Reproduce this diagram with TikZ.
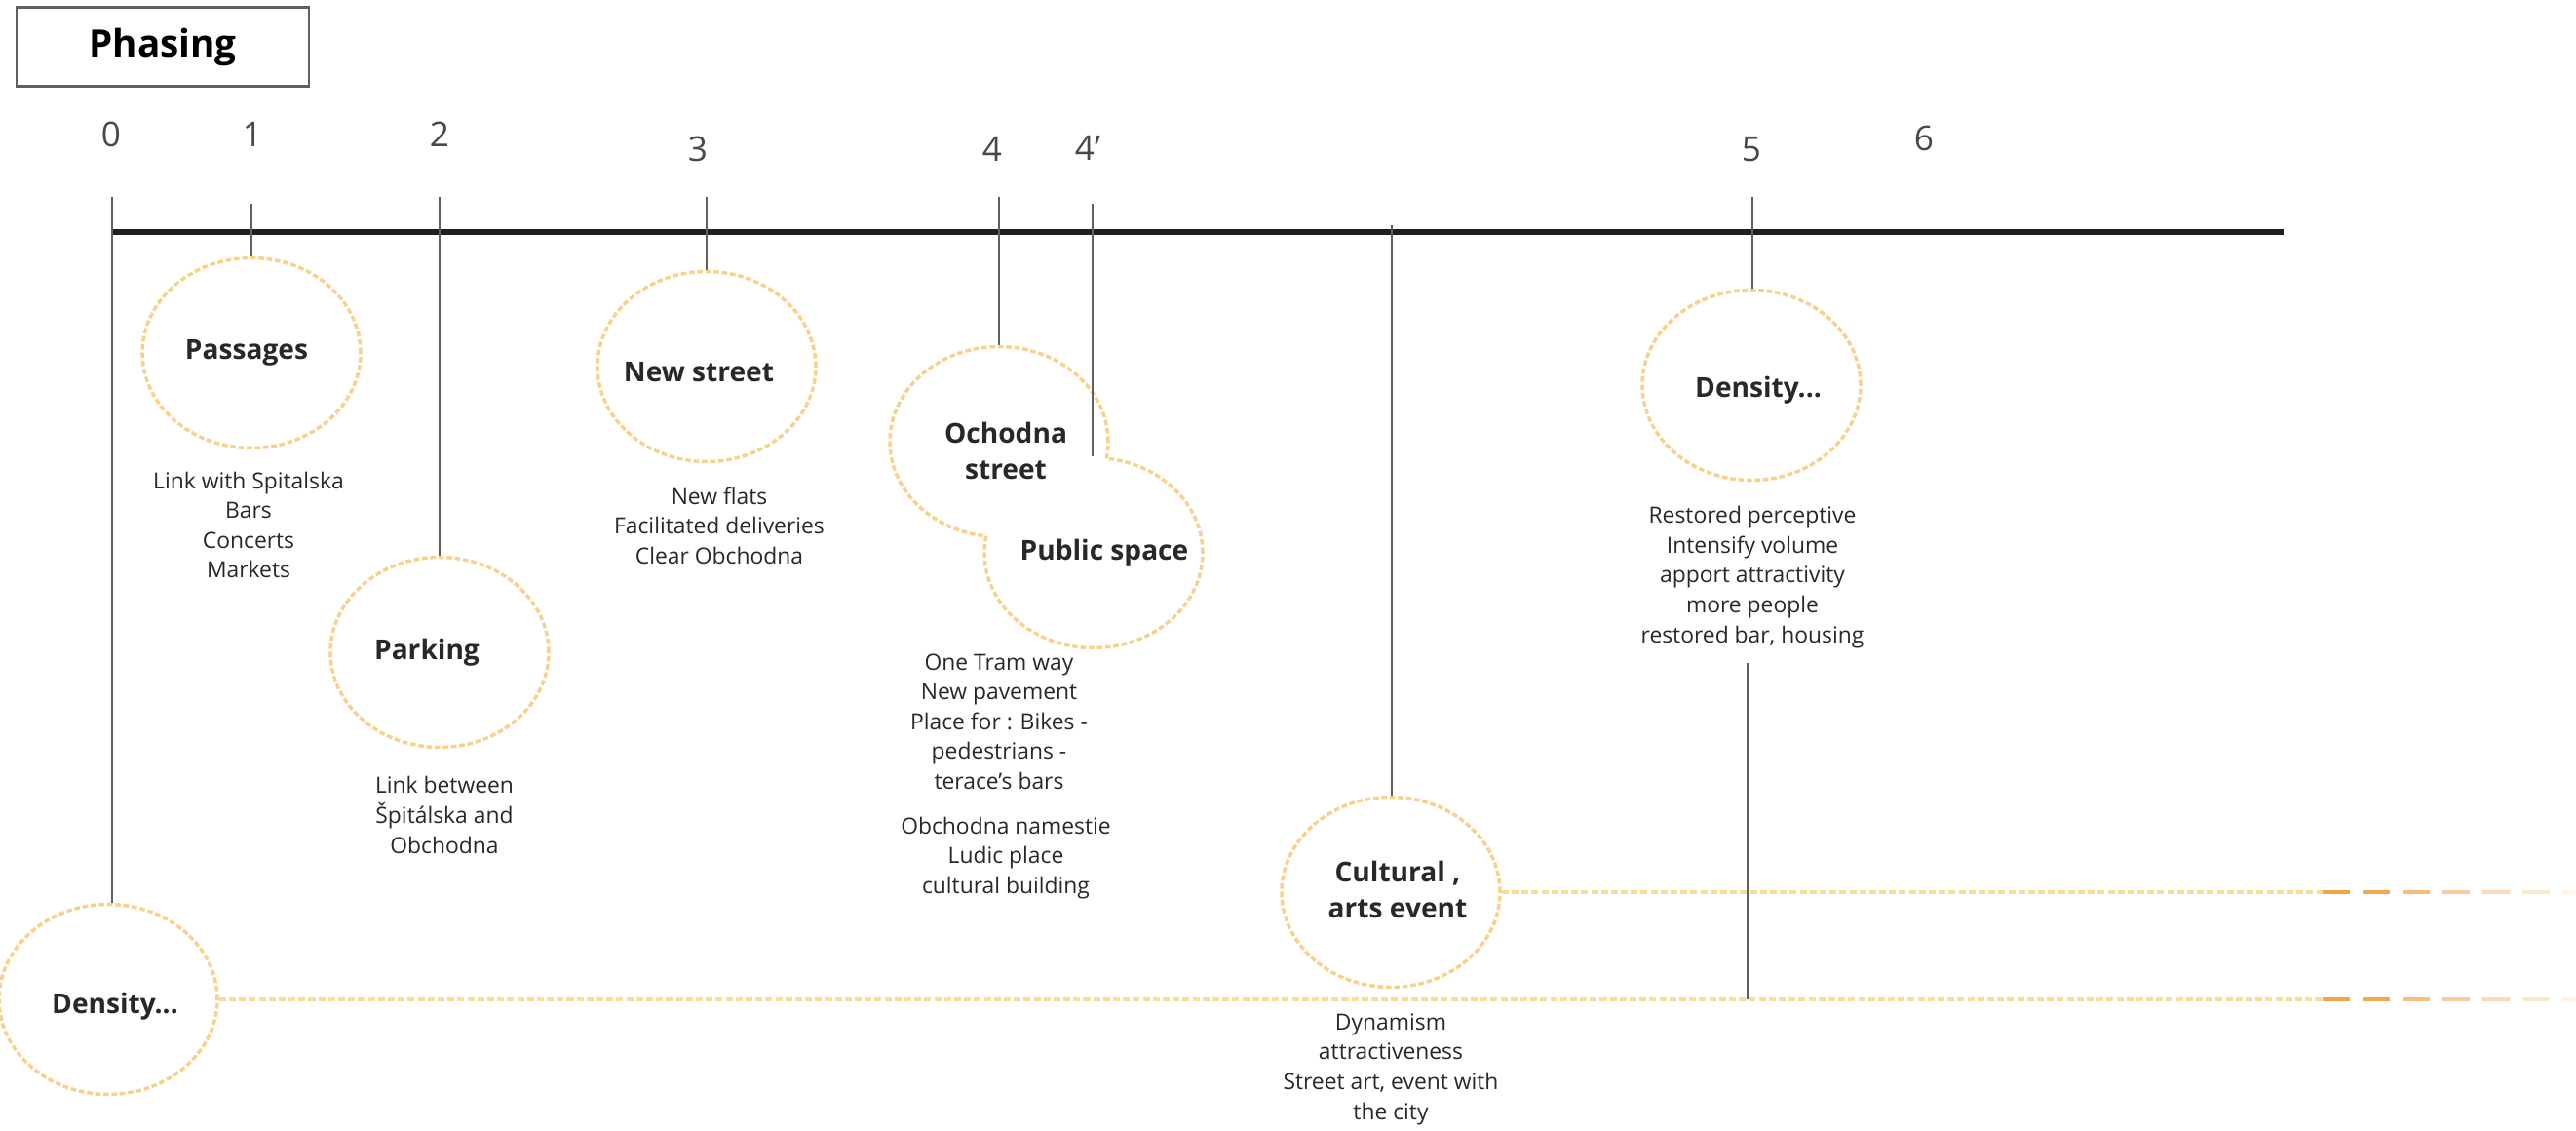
\documentclass[tikz,border=0pt]{standalone}
\usepackage{fontspec}
\setmainfont{Open Sans}
\usepackage{tikz}
\usetikzlibrary{calc,shapes.geometric}
\usepackage{xcolor}
\definecolor{ringorange}{RGB}{248,210,140}
\definecolor{trailorange}{RGB}{244,163,70}
\definecolor{trailpale}{RGB}{249,220,152}
\definecolor{tickgrey}{RGB}{95,95,95}
\definecolor{textgrey}{RGB}{40,40,40}

\begin{document}
\begin{tikzpicture}
  \tikzstyle{ring}=[ellipse, draw=ringorange, line width=1pt,
    dash pattern=on 1.6pt off 0.8pt, fill=white,
    minimum width=2.24cm, minimum height=1.95cm, inner sep=0pt];
  \tikzstyle{ringtext}=[align=center, inner sep=0pt, text=textgrey,
    font=\fontsize{8}{10.5}\selectfont\bfseries];
  \tikzstyle{notes}=[align=center, inner sep=0pt, text=textgrey,
    font=\fontsize{6.5}{8.7}\selectfont];
  \tikzstyle{stage}=[inner sep=0pt, text=textgrey!85,
    font=\fontsize{10}{12}\selectfont];
  \tikzstyle{tick}=[draw=tickgrey, line width=0.6pt];
  \tikzstyle{trail}=[draw=trailpale, line width=1pt,
    dash pattern=on 2pt off 0.9pt];
  \tikzstyle{fade}=[draw=trailorange, line width=1.4pt];
  %
  \useasboundingbox (0,0) rectangle (26.43,-11.6);
  %
  % title
  \node[draw=tickgrey, line width=0.6pt, minimum width=3cm,
    minimum height=0.81cm, font=\fontsize{11}{13}\selectfont\bfseries]
    (title) at (1.67,-0.48) {Phasing};
  %
  % stage numbers
  \node[stage] (n0) at (1.14,-1.38) {0};
  \node[stage] (n1) at (2.59,-1.38) {1};
  \node[stage] (n2) at (4.51,-1.38) {2};
  \node[stage] (n3) at (7.16,-1.53) {3};
  \node[stage] (n4) at (10.18,-1.53) {4};
  \node[stage] (n4p) at (11.16,-1.52) {4’};
  \node[stage] (n5) at (17.97,-1.53) {5};
  \node[stage] (n6) at (19.74,-1.42) {6};
  %
  % timeline
  \coordinate (start) at (1.15,-2.38);
  \coordinate (stop) at (23.43,-2.38);
  \draw[line width=1.5pt, draw=black!88] (start) -- (stop);
  %
  % phases
  \node[ring, label={[ringtext, xshift=0.7mm, yshift=-0.7mm]center:Density...}]
    (dens0) at (1.11,-10.25) {};
  \node[ring, label={[ringtext, xshift=-0.5mm]center:Passages}]
    (pass) at (2.58,-3.62) {};
  \node[ring, label={[ringtext, xshift=-1.3mm]center:Parking}]
    (park) at (4.51,-6.69) {};
  \node[ring, label={[ringtext, xshift=-0.8mm, yshift=-0.6mm]center:New street}]
    (news) at (7.25,-3.76) {};
  %
  \node[ring, label={[ringtext, xshift=1.1mm]center:Public space}]
    (pub) at (11.22,-5.67) {};
  \node[ring, draw=none,
    label={[ringtext, xshift=0.7mm, yshift=-0.9mm]center:{Ochodna\\street}}]
    (och) at (10.25,-4.53) {};
  \begin{scope}
    \clip (pub.center) ellipse [x radius=1.12cm, y radius=0.975cm]
      (-1,-13) rectangle (28,1);
    \draw[draw=ringorange, line width=1pt, dash pattern=on 1.6pt off 0.8pt]
      (och.center) ellipse [x radius=1.12cm, y radius=0.975cm];
  \end{scope}
  %
  \node[ring, label={[ringtext, xshift=0.7mm, yshift=0.3mm]center:{Cultural ,\\arts event}}]
    (cult) at (14.27,-9.15) {};
  \node[ring, label={[ringtext, xshift=0.7mm, yshift=-0.5mm]center:Density...}]
    (dens5) at (17.97,-3.95) {};
  %
  % notes
  \node[notes] (passNotes) at (2.55,-5.385) {Link with Spitalska\\Bars\\Concerts\\Markets};
  \node[notes] (parkNotes) at (4.56,-8.36) {Link between\\Špitálska and\\Obchodna};
  \node[notes] (newsNotes) at (7.38,-5.39) {New flats\\Facilitated deliveries\\Clear Obchodna};
  \node[notes] (ochNotes) at (10.25,-7.40) {One Tram way\\New pavement\\Place for : Bikes -\\pedestrians -\\terace's bars};
  \node[notes] (ochNotesB) at (10.32,-8.80) {Obchodna namestie\\Ludic place\\cultural building};
  \node[notes] (dens5Notes) at (17.98,-5.92) {Restored perceptive\\Intensify volume\\apport attractivity\\more people\\restored bar, housing};
  \node[notes] (cultNotes) at (14.27,-10.965) {Dynamism\\attractiveness\\Street art, event with\\the city};
  %
  % ticks
  \coordinate (t0) at (1.15,-2.02);
  \coordinate (t1) at (2.58,-2.09);
  \coordinate (t2) at (4.51,-2.02);
  \coordinate (t3) at (7.25,-2.02);
  \coordinate (t4) at (10.25,-2.02);
  \coordinate (t4p) at (11.21,-2.09);
  \coordinate (tc) at (14.28,-2.31);
  \coordinate (t5) at (17.98,-2.02);
  \coordinate (drop) at (17.93,-6.80);
  \draw[tick] (t0) -- (t0 |- dens0.north);
  \draw[tick] (t1) -- (pass.north);
  \draw[tick] (t2) -- (park.north);
  \draw[tick] (t3) -- (news.north);
  \draw[tick] (t4) -- (och.north);
  \draw[tick] (t4p) -- (t4p |- pub.north);
  \draw[tick] (tc) -- (tc |- cult.north);
  \draw[tick] (t5) -- (t5 |- dens5.north);
  %
  % trails
  \coordinate (endA) at (23.83,-9.15);
  \coordinate (endB) at (23.83,-10.25);
  \draw[trail] (cult.east) -- (endA);
  \draw[trail] (dens0.east) -- (endB);
  \draw[tick] (drop) -- (drop |- endB);
  \foreach \k/\op in {0/1,1/0.95,2/0.7,3/0.55,4/0.4,5/0.25,6/0.12} {
    \draw[fade, draw opacity=\op] ($(endA)+(\k*0.41,0)$) -- ++(0.28,0);
    \draw[fade, draw opacity=\op] ($(endB)+(\k*0.41,0)$) -- ++(0.28,0);
  }
\end{tikzpicture}
\end{document}
